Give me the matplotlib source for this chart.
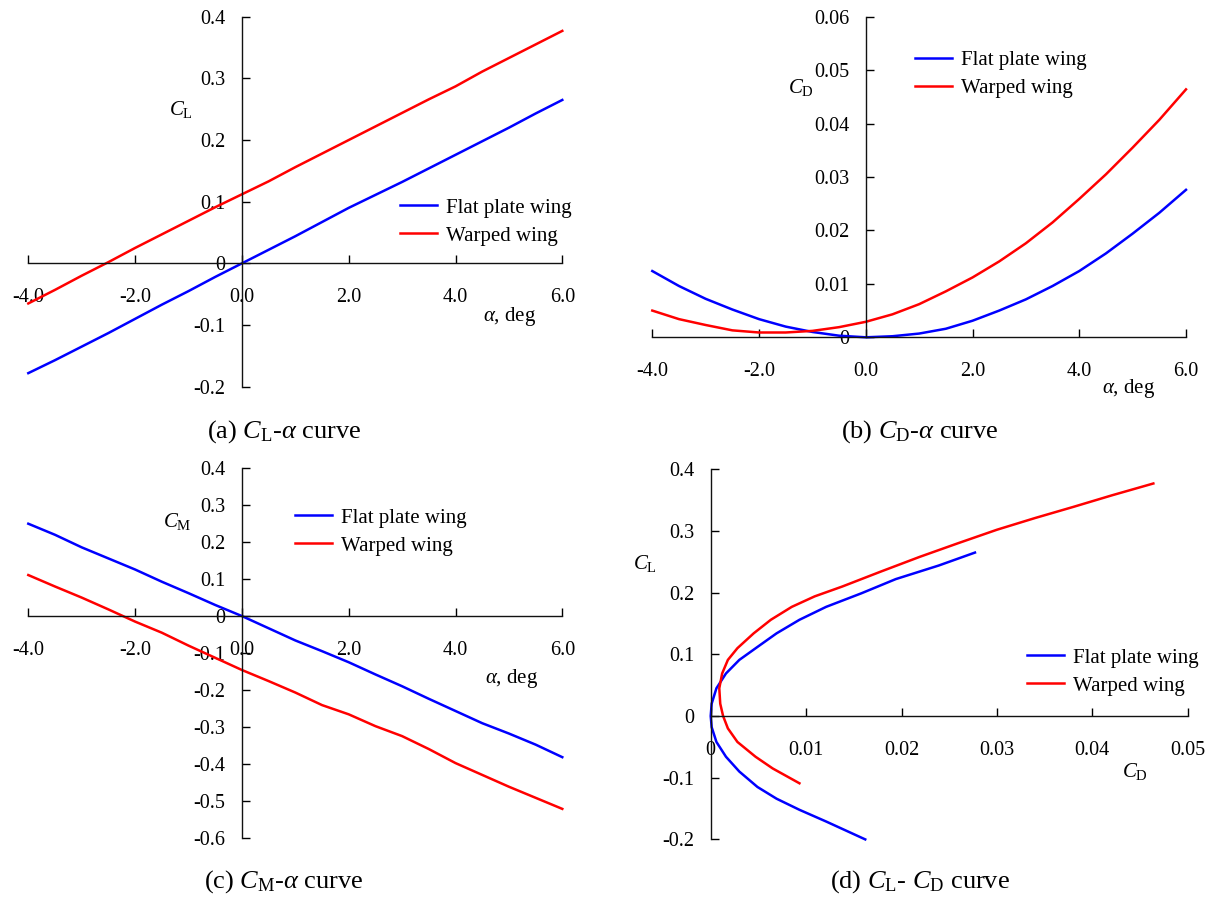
import matplotlib
matplotlib.use('Agg')
from matplotlib import pyplot as plt

plt.rcParams['font.family'] = ['Liberation Serif', 'DejaVu Serif']
plt.rcParams['mathtext.fontset'] = 'custom'
plt.rcParams['mathtext.rm'] = 'Liberation Serif'
plt.rcParams['mathtext.it'] = 'Liberation Serif:italic'
plt.rcParams['axes.unicode_minus'] = False

# angle of attack, deg
alpha = [-4.0, -3.5, -3.0, -2.5, -2.0, -1.5, -1.0, -0.5, 0.0, 0.5, 1.0,
         1.5, 2.0, 2.5, 3.0, 3.5, 4.0, 4.5, 5.0, 5.5, 6.0]

cl_flat = [-0.178, -0.157, -0.135, -0.113, -0.090, -0.067, -0.045, -0.022, 0.000, 0.022, 0.044,
           0.067, 0.090, 0.111, 0.132, 0.154, 0.176, 0.198, 0.220, 0.243, 0.265]
cl_warp = [-0.065, -0.043, -0.020, 0.002, 0.025, 0.047, 0.069, 0.091, 0.112, 0.133, 0.156,
           0.178, 0.200, 0.222, 0.244, 0.266, 0.287, 0.311, 0.333, 0.355, 0.377]

cd_flat = [0.0124, 0.0096, 0.0072, 0.0052, 0.0034, 0.0020, 0.0010, 0.0003, 0.0000, 0.0002, 0.0007,
           0.0016, 0.0031, 0.0050, 0.0071, 0.0096, 0.0124, 0.0157, 0.0194, 0.0233, 0.0276]
cd_warp = [0.0050, 0.0034, 0.0023, 0.0013, 0.0009, 0.0009, 0.0012, 0.0019, 0.0029, 0.0043, 0.0062,
           0.0086, 0.0112, 0.0142, 0.0176, 0.0215, 0.0259, 0.0305, 0.0355, 0.0407, 0.0464]

cm_flat = [0.250, 0.220, 0.186, 0.156, 0.126, 0.093, 0.062, 0.030, 0.000, -0.033, -0.066,
           -0.095, -0.125, -0.158, -0.190, -0.224, -0.257, -0.290, -0.318, -0.348, -0.382]
cm_warp = [0.111, 0.080, 0.050, 0.018, -0.015, -0.045, -0.080, -0.113, -0.146, -0.176, -0.207,
           -0.241, -0.266, -0.298, -0.325, -0.360, -0.398, -0.430, -0.462, -0.492, -0.522]

# drag polar (CD, CL)
polar_cd_flat = [0.0162, 0.0121, 0.0093, 0.0069, 0.0049, 0.0030, 0.0016, 0.0006, 0.0001, 0.0000,
                 0.0001, 0.0006, 0.0016, 0.0030, 0.0049, 0.0069, 0.0093, 0.0121, 0.0158, 0.0194,
                 0.0239, 0.0277]
polar_cl_flat = [-0.200, -0.171, -0.152, -0.134, -0.115, -0.090, -0.066, -0.042, -0.018, 0.000,
                 0.020, 0.045, 0.069, 0.091, 0.112, 0.134, 0.156, 0.177, 0.199, 0.222,
                 0.244, 0.265]
polar_cd_warp = [0.0093, 0.0065, 0.0047, 0.0028, 0.0018, 0.0013, 0.0010, 0.0009, 0.0012, 0.0018,
                 0.0028, 0.0045, 0.0063, 0.0085, 0.0109, 0.0138, 0.0178, 0.0219, 0.0259, 0.0300,
                 0.0340, 0.0380, 0.0421, 0.0464]
polar_cl_warp = [-0.109, -0.085, -0.066, -0.042, -0.020, 0.000, 0.020, 0.045, 0.069, 0.091,
                 0.110, 0.134, 0.156, 0.177, 0.194, 0.210, 0.234, 0.258, 0.280, 0.302,
                 0.321, 0.339, 0.358, 0.377]

alpha_ticks = [-4, -2, 0, 2, 4, 6]
alpha_labels = ['-4.0', '-2.0', '0.0', '2.0', '4.0', '6.0']

W, H = 1215, 900
fig = plt.figure(figsize=(W / 100, H / 100), dpi=100)


def px_axes(x0, x1, y0, y1):
    # pixel box (left, right, top, bottom) -> axes
    return fig.add_axes([x0 / W, 1 - y1 / H, (x1 - x0) / W, (y1 - y0) / H])


def cross_axes(ax):
    for s in ['top', 'right']:
        ax.spines[s].set_visible(False)
    ax.spines['left'].set_position(('data', 0))
    ax.spines['bottom'].set_position(('data', 0))
    for s in ['left', 'bottom']:
        ax.spines[s].set_linewidth(1.0)
        ax.spines[s].set_color('#111111')
    ax.tick_params(axis='both', direction='in', length=6, width=1.0, labelsize=14.5)
    ax.tick_params(axis='x', pad=18)
    ax.tick_params(axis='y', pad=12)
    ax.patch.set_visible(False)


def two_lines(ax, x1, y1, x2, y2, anchor):
    ax.plot(x1, y1, color='blue', lw=1.8, label='Flat plate wing', clip_on=False)
    ax.plot(x2, y2, color='red', lw=1.8, label='Warped wing', clip_on=False)
    ax.legend(loc='upper left', bbox_to_anchor=anchor, frameon=False, fontsize=15,
              borderpad=0, borderaxespad=0, handlelength=1.8, handletextpad=0.4,
              labelspacing=0.4)


def fig_text(x, y, s, size=15):
    fig.text(x / W, 1 - y / H, s, fontsize=size, ha='center', va='center')


# (a) CL - alpha
ax = px_axes(28.3, 562.3, 16.7, 386.7)
two_lines(ax, alpha, cl_flat, alpha, cl_warp, (0.696, 0.51))
ax.set_xlim(-4, 6)
ax.set_ylim(-0.2, 0.4)
ax.set_xticks(alpha_ticks, alpha_labels)
ax.set_yticks([-0.2, -0.1, 0, 0.1, 0.2, 0.3, 0.4], ['-0.2', '-0.1', '0', '0.1', '0.2', '0.3', '0.4'])
cross_axes(ax)
fig_text(181, 110, r'$C_{\mathrm{L}}$')
fig_text(510, 317, r'$\alpha$, deg')
fig_text(284, 432, r'(a) $C_{\mathrm{L}}$-$\alpha$ curve', 19)

# (b) CD - alpha
ax = px_axes(652.3, 1186.0, 16.7, 337.3)
two_lines(ax, alpha, cd_flat, alpha, cd_warp, (0.492, 0.895))
ax.set_xlim(-4, 6)
ax.set_ylim(0, 0.06)
ax.set_xticks(alpha_ticks, alpha_labels)
ax.set_yticks([0, 0.01, 0.02, 0.03, 0.04, 0.05, 0.06],
              ['0', '0.01', '0.02', '0.03', '0.04', '0.05', '0.06'])
cross_axes(ax)
fig_text(801, 88, r'$C_{\mathrm{D}}$')
fig_text(1129, 388, r'$\alpha$, deg')
fig_text(920, 432, r'(b) $C_{\mathrm{D}}$-$\alpha$ curve', 19)

# (c) CM - alpha
ax = px_axes(28.3, 562.3, 468.3, 837.7)
two_lines(ax, alpha, cm_flat, alpha, cm_warp, (0.499, 0.892))
ax.set_xlim(-4, 6)
ax.set_ylim(-0.6, 0.4)
ax.set_xticks(alpha_ticks, alpha_labels)
ax.set_yticks([-0.6, -0.5, -0.4, -0.3, -0.2, -0.1, 0, 0.1, 0.2, 0.3, 0.4],
              ['-0.6', '-0.5', '-0.4', '-0.3', '-0.2', '-0.1', '0', '0.1', '0.2', '0.3', '0.4'])
cross_axes(ax)
fig_text(177, 522, r'$C_{\mathrm{M}}$')
fig_text(512, 678, r'$\alpha$, deg')
fig_text(284, 882, r'(c) $C_{\mathrm{M}}$-$\alpha$ curve', 19)

# (d) CL - CD
ax = px_axes(710.7, 1187.7, 469.3, 839.4)
two_lines(ax, polar_cd_flat, polar_cl_flat, polar_cd_warp, polar_cl_warp, (0.663, 0.517))
ax.set_xlim(0, 0.05)
ax.set_ylim(-0.2, 0.4)
ax.set_xticks([0, 0.01, 0.02, 0.03, 0.04, 0.05], ['0', '0.01', '0.02', '0.03', '0.04', '0.05'])
ax.set_yticks([-0.2, -0.1, 0, 0.1, 0.2, 0.3, 0.4], ['-0.2', '-0.1', '0', '0.1', '0.2', '0.3', '0.4'])
cross_axes(ax)
fig_text(645, 564, r'$C_{\mathrm{L}}$')
fig_text(1135, 772, r'$C_{\mathrm{D}}$')
fig_text(920, 882, r'(d) $C_{\mathrm{L}}$- $C_{\mathrm{D}}$ curve', 19)

fig.savefig('out.png', dpi=100)
